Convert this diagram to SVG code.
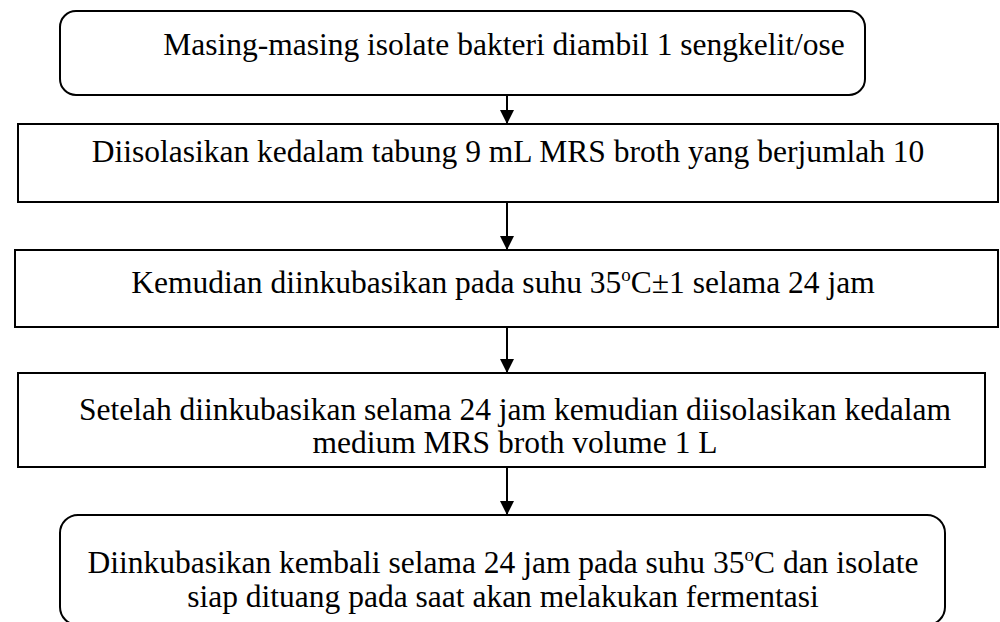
<svg xmlns="http://www.w3.org/2000/svg" width="1000" height="622" viewBox="0 0 1000 622">
<style>
.box{fill:#fff;stroke:#000;stroke-width:2}
.t{font-family:"Liberation Serif","Times New Roman","DejaVu Serif",serif;font-size:31.5px;fill:#000;text-anchor:middle}
.sup{font-size:19px}
.c{stroke:#000;stroke-width:2;fill:none}
</style>
<defs>
<marker id="ah" markerWidth="14" markerHeight="14" refX="14" refY="7" orient="auto" markerUnits="userSpaceOnUse">
<path d="M0,0 L14,7 L0,14 Z" fill="#000"/>
</marker>
</defs>
<g id="n1"><rect class="box" x="60" y="11" width="805" height="84" rx="16"/>
<text class="t" x="504" y="55">Masing-masing isolate bakteri diambil 1 sengkelit/ose</text></g>
<g id="n2"><rect class="box" x="18" y="124" width="980" height="78"/>
<text class="t" x="508" y="162">Diisolasikan kedalam tabung 9 mL MRS broth yang berjumlah 10</text></g>
<g id="n3"><rect class="box" x="15" y="250" width="983" height="77"/>
<text class="t" x="503" y="293">Kemudian diinkubasikan pada suhu 35<tspan class="sup" dy="-12">o</tspan><tspan dy="12">C±1 selama 24 jam</tspan></text></g>
<g id="n4"><rect class="box" x="18" y="373" width="967" height="94"/>
<text class="t" x="515" y="420">Setelah diinkubasikan selama 24 jam kemudian diisolasikan kedalam</text>
<text class="t" x="515" y="453">medium MRS broth volume 1 L</text></g>
<g id="n5"><rect class="box" x="60" y="515" width="885" height="110" rx="18"/>
<text class="t" x="503" y="573">Diinkubasikan kembali selama 24 jam pada suhu 35<tspan class="sup" dy="-12">o</tspan><tspan dy="12">C dan isolate</tspan></text>
<text class="t" x="503" y="607">siap dituang pada saat akan melakukan fermentasi</text></g>
<g id="connectors">
<line class="c" x1="507" y1="95" x2="507" y2="124" marker-end="url(#ah)"/>
<line class="c" x1="507" y1="202" x2="507" y2="250" marker-end="url(#ah)"/>
<line class="c" x1="507" y1="327" x2="507" y2="373" marker-end="url(#ah)"/>
<line class="c" x1="507" y1="467" x2="507" y2="515" marker-end="url(#ah)"/>
</g>
</svg>
